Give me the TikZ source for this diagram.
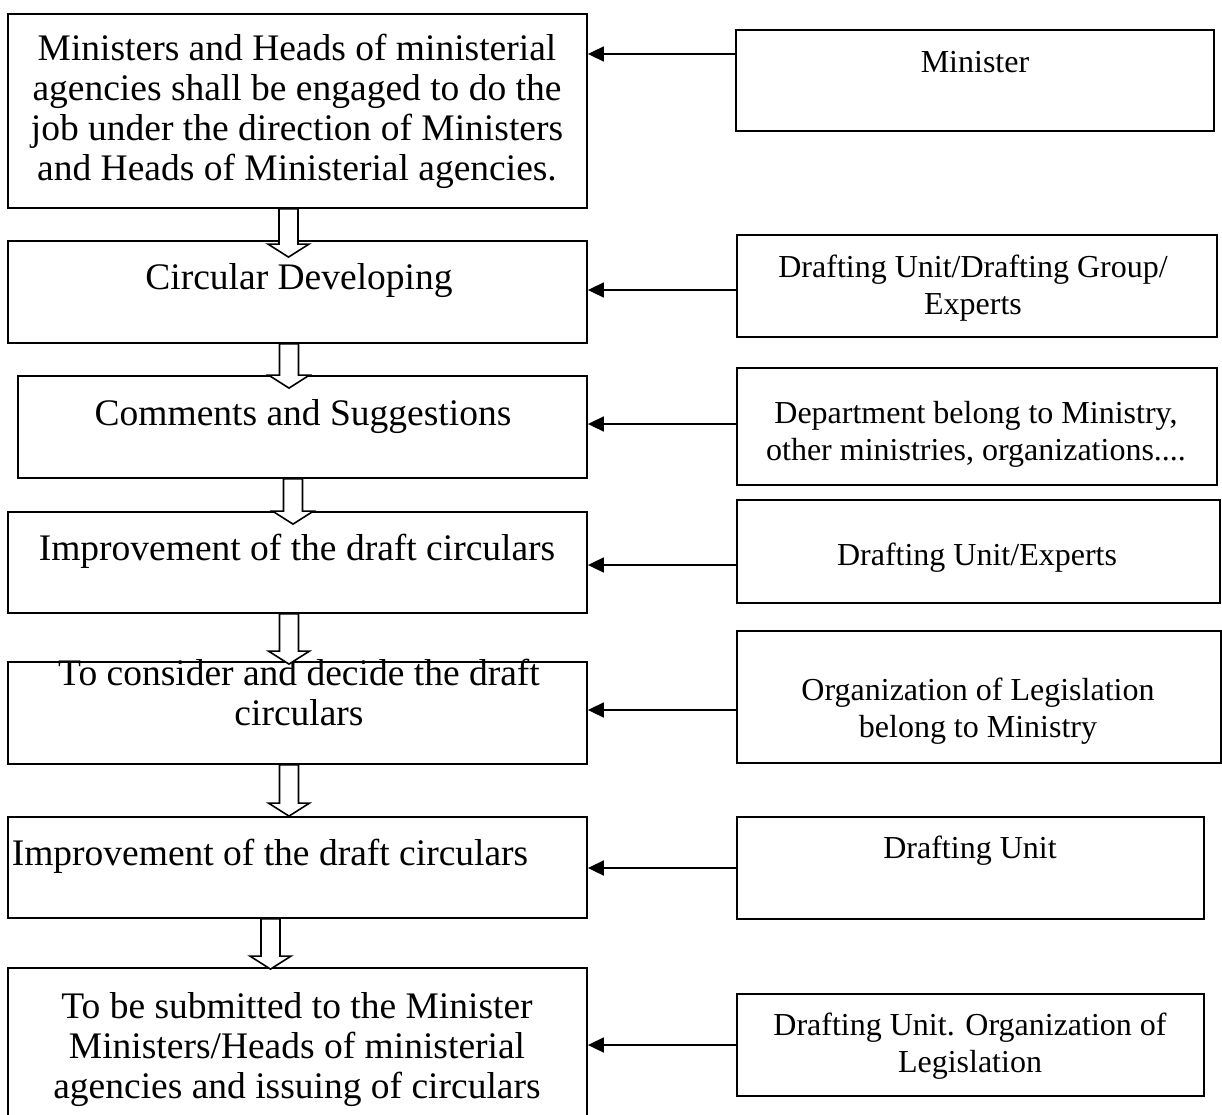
\documentclass[tikz,border=0pt]{standalone}
\usepackage{fontspec}
\setmainfont{Liberation Serif}
\usetikzlibrary{fit,arrows.meta,calc}

% Hollow block arrow from the bottom of node #1 down into node #2.
% #3: x of the arrow axis, #4: depth of the tip below the top of #2.
\newcommand{\blockdown}[4]{%
  \draw[hollow] let \p1=(#1.south), \p2=(#2.north) in
    ({#3pt-9.5pt},\y1) -- ({#3pt-9.5pt},{\y2-#4pt+13pt})
    -- ({#3pt-20.5pt},{\y2-#4pt+13pt}) -- ({#3pt},{\y2-#4pt})
    -- ({#3pt+20.5pt},{\y2-#4pt+13pt}) -- ({#3pt+9.5pt},{\y2-#4pt+13pt})
    -- ({#3pt+9.5pt},\y1) -- cycle;}

\begin{document}
\begin{tikzpicture}[x=1pt,y=-1pt,
  box/.style={draw, line width=1.8pt, inner sep=0pt},
  big/.style={align=center, font=\fontsize{37.5}{40}\selectfont, inner sep=0pt},
  small/.style={align=center, font=\fontsize{32}{37}\selectfont, inner sep=0pt},
  feed/.style={line width=1.8pt, -{Triangle[length=16pt,width=15pt]}},
  hollow/.style={draw, line width=1.6pt, fill=white, line join=miter}]
\useasboundingbox (0,0) rectangle (1222,1115);
\clip (0,0) rectangle (1222,1115);

% process steps (left column)
\node[box, fit={(8,14) (587,208)}]   (L1) {};
\node[box, fit={(8,241) (587,343)}]  (L2) {};
\node[box, fit={(18,376) (587,478)}] (L3) {};
\node[box, fit={(8,512) (587,613)}]  (L4) {};
\node[box, fit={(8,662) (587,764)}]  (L5) {};
\node[box, fit={(8,817) (587,918)}]  (L6) {};
\node[box, fit={(8,968) (587,1140)}] (L7) {};

\node[big] (T1) at (297,111) {Ministers and Heads of ministerial\\agencies shall be engaged to do the\\job under the direction of Ministers\\and Heads of Ministerial agencies.};
\node[big] (T2) at (299,281) {Circular Developing};
\node[big] (T3) at (303,417) {Comments and Suggestions};
\node[big] (T4) at (297,551) {Improvement of the draft circulars};
\node[big] (T5) at (299,692) {To consider and decide the draft\\circulars};
\node[big] (T6) at (270,856) {Improvement of the draft circulars};
\node[big] (T7) at (297,1050) {To be submitted to the Minister\\Ministers/Heads of ministerial\\agencies and issuing of circulars};

% responsible bodies (right column)
\node[box, fit={(736,30) (1214,131)}]   (R1) {};
\node[box, fit={(737,235) (1217,337)}]  (R2) {};
\node[box, fit={(737,368) (1217,485)}]  (R3) {};
\node[box, fit={(737,500) (1220,603)}]  (R4) {};
\node[box, fit={(737,631) (1221,763)}]  (R5) {};
\node[box, fit={(737,817) (1204,919)}]  (R6) {};
\node[box, fit={(737,994) (1204,1096)}] (R7) {};

\node[small] (S1) at (975,62) {Minister};
\node[small] (S2) at (973,288) {Drafting Unit/Drafting Group/\\Experts};
\node[small] (S3) at (976,434) {Department belong to Ministry,\\other ministries, organizations....};
\node[small] (S4) at (977,558) {Drafting Unit/Experts};
\node[small] (S5) at (978,711) {Organization of Legislation\\belong to Ministry};
\node[small] (S6) at (970,851) {Drafting Unit};
\node[small] (S7) at (970,1046) {Drafting Unit. Organization of\\Legislation};

% heights of the feed lines
\coordinate (y1) at (0,54);
\coordinate (y2) at (0,290);
\coordinate (y3) at (0,424);
\coordinate (y4) at (0,565);
\coordinate (y5) at (0,710);
\coordinate (y6) at (0,868);
\coordinate (y7) at (0,1045);

\foreach \i in {1,...,7} {
  \draw[feed] (R\i.west |- y\i) -- (L\i.east |- y\i);
}

% block arrows between the steps
\blockdown{L1}{L2}{288.5}{17}
\blockdown{L2}{L3}{289}{13}
\blockdown{L3}{L4}{293}{13}
\blockdown{L4}{L5}{289}{3}
\blockdown{L5}{L6}{289}{0}
\blockdown{L6}{L7}{270.5}{2}
\end{tikzpicture}
\end{document}
